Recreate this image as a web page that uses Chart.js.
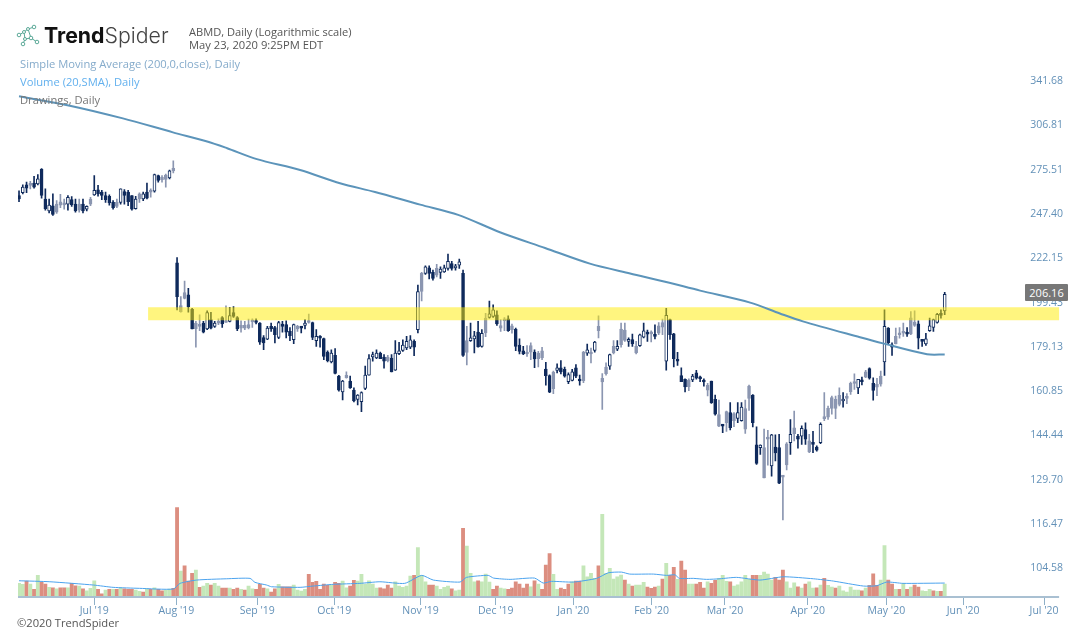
<!DOCTYPE html>
<html lang="en">
<head>
<meta charset="UTF-8">
<title>ABMD Daily</title>
<script src="https://cdn.jsdelivr.net/npm/chart.js"></script>
<style>
    html, body { margin: 0; padding: 0; background: #fff; }
    #wrap { position: relative; width: 1086px; height: 638px; overflow: hidden; font-family: "Open Sans", sans-serif; }
    #chart { position: absolute; left: 0; top: 0; }
    .txt { position: absolute; white-space: nowrap; font-size: 11.2px; line-height: 13px; }
    #logo { position: absolute; left: 44px; top: 21px; font-family: Inter, sans-serif; font-size: 21.3px; line-height: 28px; color: #111; white-space: nowrap; }
    #logo b { font-weight: 700; }
    #logo span { font-weight: 300; color: #444; }
    #lastPrice { position: absolute; left: 1025px; top: 284px; width: 43px; height: 17px; background: #777; color: #fff; font-size: 11px; line-height: 17px; text-align: center; border-radius: 1px; }
</style>
</head>
<body>
<div id="wrap">
    <canvas id="chart" width="1086" height="638"></canvas>
    <svg style="position:absolute;left:16px;top:24px" width="26" height="24" viewBox="0 0 26 24" fill="none" stroke="#5aa897" stroke-width="1">
        <path d="M3 11 L8 8 L12 5 L18 3 M8 8 L9 15 L7 20 M9 15 L15 14 L21 18 M12 5 L15 14"/>
        <circle cx="3" cy="11" r="1.8" fill="#fff"/><circle cx="8" cy="8" r="1.5" fill="#fff"/><circle cx="12" cy="5" r="1.5" fill="#fff"/>
        <circle cx="18" cy="3" r="1.8" fill="#fff"/><circle cx="9" cy="15" r="1.5" fill="#fff"/><circle cx="7" cy="20" r="1.8" fill="#fff"/>
        <circle cx="15" cy="14" r="1.8" fill="#fff"/><circle cx="21" cy="18" r="1.8" fill="#fff"/>
    </svg>
    <div id="logo"><b>Trend</b><span>Spider</span></div>
    <div class="txt" style="left:189px;top:25px;color:#555;font-size:11.1px">ABMD, Daily (Logarithmic scale)</div>
    <div class="txt" style="left:189px;top:38px;color:#555">May 23, 2020 9:25PM EDT</div>
    <div class="txt" style="left:20px;top:57px;color:#85abcb">Simple Moving Average (200,0,close), Daily</div>
    <div class="txt" style="left:20px;top:75px;color:#62b0ee">Volume (20,SMA), Daily</div>
    <div class="txt" style="left:20px;top:93px;color:#777">Drawings, Daily</div>
    <div class="txt" style="left:17px;top:616px;color:#555">©2020 TrendSpider</div>
    <div id="lastPrice">206.16</div>
</div>
<script>
    const opens = [
        258.7,260.4,265.5,266.1,266.6,266.1,275.7,256.5,249.1,252.3,
        253.3,254.8,254,253.3,256.1,253.3,253.3,253.3,250.2,256.5,
        259.1,262.3,260.8,258.7,258.2,254.4,254.4,254.4,261.2,260.8,
        258.7,250.6,259.7,256.5,260.8,261.6,261.4,271.5,270.6,271.9,
        270,276.4,
        219.7,195.1,204.3,203.2,196.2,189.7,189,189.7,187,191.3,
        188.2,190.5,192.3,190.5,190.5,194.6,192.3,188.7,188.7,189,
        190.8,190.8,189.7,183.2,182.5,188.2,187.7,183.2,189.3,189,
        185.9,182.2,187.1,187.9,188.7,190.5,190,181.8,183.4,182.7,
        176.8,172.6,175.4,166.8,160.5,167.1,164.8,161.2,157.6,156.7,
        161.9,167.2,174.7,174.3,176.4,174.7,174.7,174.3,169.2,176.1,
        177.5,178.6,178.9,181.5,186.7,214.1,214.1,217,214.6,216.7,
        214.6,214.9,216.7,219.3,217,218.4,214.1,181.8,181.8,182.6,
        185.6,179.3,192,192.3,192.8,193.6,187.4,191.3,191.7,188.5,
        186.9,179.8,177.4,176.4,179.6,176.8,176.4,177.4,169.7,167,
        168.4,169.1,170.2,169.5,164.5,165,170.2,165.2,176.8,176.3,
        176,177.5,188.2,164.4,170.5,170.9,179.3,178.1,187,186.5,
        181.5,182.3,176.4,179.6,183.3,185.4,185.1,184.1,188.5,190,
        172.9,191.3,184.8,173.3,167,165.5,165.2,165.2,168.1,166.1,
        165.2,161.2,164.8,157.6,147.7,148,153,152.6,152.3,150.5,
        149.7,146.6,162.8,159.3,141.1,140.2,130.2,143.4,134.1,140.4,
        140.2,130.8,141.5,141.9,147.1,144.2,144.1,146.5,138.7,141.5,
        140.4,141.9,150.9,154.2,158.3,157.6,159.2,157,158.5,163.9,
        164.1,162.1,165.2,168.5,169.9,163.9,163.5,166.8,172.6,187.4,
        180,183.7,185.1,185.9,185.6,192.2,190.2,189.4,181.8,180.3,
        186.2,187.7,190,194.3,195.4
    ];
    const highs = [
        261.7,265.5,267.2,267.8,271,272.1,276.1,262.9,256.5,259.7,
        255.5,259.5,256.5,258.7,258,256.5,256.5,256.5,252.3,257.6,
        271.5,265.1,261.9,260.8,259.1,255.5,256.5,262.9,262.5,261.9,
        258.7,258.2,260.4,260.8,266.6,262.9,272.5,271.9,271.5,272.5,
        275.1,281.5,
        222.4,202.3,210.1,206.5,196.7,190.5,193.6,190.5,195.4,194.8,
        190.5,191.7,192.8,197.8,197.1,197.5,192.8,190.8,190.5,191.6,
        191.7,191.7,190,184.1,188.2,189.7,188.2,190.5,190.5,190.8,
        187.7,189.3,188.7,188.2,191.3,193.9,190.2,186.7,184.1,182.9,
        177.4,177.8,178.3,167.1,165.1,168.5,166.8,162.1,159.5,160.5,
        170.9,175.7,176.8,177.8,176.8,175.7,175.4,175.7,181.8,181.1,
        182.2,183.7,184,182.2,208.1,214.6,218,218,215.8,218.8,
        217.5,218.4,224.3,220.5,218.8,221.7,215.8,188.2,189.7,185.9,
        190.5,186.7,194.3,200.2,198.3,195.4,191.3,192.3,193.1,189.3,
        187.4,182.6,179.3,179.6,180.8,177.8,177.1,178.9,172.5,167.3,
        168.8,171.8,173.2,170.5,168.1,169.5,171.5,167.2,177.1,180.3,
        178.5,181.5,193.1,167.8,172.2,176,181.8,181.8,189.7,189.7,
        183,184.7,181.5,184.7,189.7,186.5,186.2,188.9,190,191.6,
        196.7,191.6,185.1,176.7,170.2,165.7,165.7,167.5,169.1,166.8,
        165.7,163.9,164.8,159.3,157.3,148.3,153.2,156.4,152.6,156.4,
        156.4,157.3,163.2,159.5,147.4,141.1,146.6,146.2,144.8,144.6,
        144.8,130.8,141.9,150.1,153.2,144.8,147.8,148.9,144.8,145.8,
        140.8,148.9,160.2,155.1,158.9,158.9,162.1,160.2,159.8,164.4,
        167.7,165.5,166.4,169.1,170.2,166.1,165.9,168.8,195.9,187.7,
        180.8,187.4,187.7,189.7,187.7,195.1,195.4,190.8,182.2,185.1,
        192,191.6,194.3,195.9,204.5
    ];
    const lows = [
        254.8,259.7,260.4,262.9,263.4,265.5,257,249.7,248,246.5,
        247.6,251.2,250.2,249.7,251.9,248.4,248.4,248,249.1,252.3,
        258.7,258.2,256.1,254.4,252.7,250.2,251.2,253.3,253.3,252.3,
        249.7,250.2,254.4,255.5,256.5,257.6,260.8,267.2,267.2,264,
        269.3,273.2,
        195.9,194.8,201.2,194.8,187.1,178.9,186.2,185.2,186.7,187.1,
        187.7,189,187.7,190,190.2,192.3,186.2,185.6,186.7,187,
        187.7,189.3,180.1,177.8,182.2,185.9,180.8,182.7,185.6,183,
        181.8,180.5,185.9,185.2,187.1,189.7,182.2,179.3,178.9,173.6,
        172.6,172.2,167.7,160.8,157.4,165.9,161.9,156.6,155.5,153,
        161.4,167.2,172.9,174,174,170,172.6,168.5,169.1,175.7,
        177.1,177.8,178.3,175.3,185.2,200.2,213.5,211.2,210.6,212.3,
        211.5,214.6,215.8,215.8,215.8,216.7,175,171.4,181.5,176.5,
        178.9,178.9,183.6,192,192.3,188.6,185.9,186.2,185.9,185.1,
        177.4,176,175.7,175,173.6,170.2,170.5,173.6,163.1,160.2,
        159.8,168.1,167.7,166.4,163.7,164.8,166.1,163.1,164.1,175.4,
        172.2,176.8,183,153.8,167.2,169.5,176,177.4,178.9,181.5,
        179.3,179.3,176,179.3,183,181.5,181.2,182.6,184.4,184.4,
        169.2,182.3,170.5,171.2,164.5,160.5,161,164.5,165.5,164.5,
        162.8,158.9,156.1,151.7,147.5,145.4,145.8,146.3,147.5,148.9,
        149.5,145.1,153.4,147.4,134.6,137.9,130.2,134.3,130.8,135.7,
        128.4,117.6,132.8,137.9,142.5,140,141.3,141.3,138.5,138.5,
        139,141.5,149.7,150.1,152,150.4,155.1,154.7,156,159.5,
        161.5,159.8,163.2,166.1,165.5,157.3,159,162.8,167.1,180.3,
        175.4,180.3,182.9,183.7,183.7,184.4,188.2,178.2,179.3,179.7,
        185.9,185.9,189.7,192,193.6
    ];
    const closes = [
        256.5,264,263.4,265.1,264,269.3,258.7,250.6,252.7,247,
        248.4,252.7,252.9,257.6,252.9,249.1,249.7,249.1,251.9,253.3,
        261.9,259.7,258.7,256.1,254,251.2,251.9,262.9,258.7,254.8,
        250.2,256.5,256.6,259.7,257,260.8,272.1,268.3,268.9,269,
        274.6,274.6,
        202.3,198,201.5,197.5,187.1,187.2,188.2,185.6,194.6,187.4,
        189.7,189.7,189.3,190,193.2,192.8,187,187.4,187.4,187.5,
        190.3,190,181.1,180.8,187.4,187,184.4,190,188.2,185.6,
        184,189,188.2,187.4,189.7,190,183.2,183.7,182.9,175,
        173.2,176.4,167.9,161.2,164.8,166.1,162.1,157,159.3,160.2,
        167.2,174,175.7,176.4,174,172.9,173.2,168.5,176.4,177.4,
        179.8,181.5,182.2,178.9,204.8,204.9,217.5,214.1,211.5,213.2,
        216.3,217,220.5,216.7,218.1,220.2,175.4,176.7,183,183.9,
        179,185.1,185.2,194,195.9,189.3,188.6,190.8,186.2,186.7,
        179.3,177.1,176,176,176.8,173.9,174,174.3,167,160.4,
        161.8,170.2,168.5,166.8,167.4,168.5,166.8,164.8,164.9,177.8,
        176.4,181.2,186.2,165.9,167.8,175.7,176.4,179.3,180,181.9,
        182.3,180.4,179.3,184.4,186.2,184.7,184.8,183.7,185.1,187.9,
        193.3,184.4,174,172.9,164.5,162.5,162.6,166.8,165.9,165.7,
        164.4,163.1,156.4,152,151.9,147.7,148.9,147.1,149.7,152.6,
        154.7,154.1,158,148.9,134.9,141,140.2,143.1,144.6,138.4,
        128.6,130.5,134.4,144.8,145,143.1,146.9,143.1,142.5,141.3,
        139.3,148.3,150.4,150.9,154.2,154.2,155.7,157.6,158,160.6,
        163.8,165.5,164.5,166.4,165.9,161.1,162.4,163.5,188.2,180.8,
        178.9,180.3,184.4,185.1,184.7,184.8,188.7,182.9,181.5,182.6,
        188.5,191.3,193.8,193.3,203.5
    ];
    // thousands of shares
    const volumes = [
        137,127,160,130,77,217,147,130,97,93,
        83,93,93,93,137,113,110,83,63,87,
        163,77,33,70,77,77,77,93,83,77,
        77,70,57,50,83,77,93,77,63,70,
        80,87,897,260,313,160,237,270,97,110,
        137,120,137,110,90,90,90,77,90,77,
        70,110,83,77,127,90,83,50,83,127,
        103,103,103,120,70,60,77,227,147,157,
        77,130,117,117,147,137,160,93,110,167,
        160,227,130,163,130,90,93,83,120,90,
        153,110,97,110,210,217,497,217,153,120,
        120,110,77,97,110,83,63,70,690,510,
        237,153,163,153,230,150,77,110,90,83,
        77,90,153,130,90,130,103,163,130,77,
        320,437,227,77,90,77,130,153,160,160,
        313,203,237,187,313,830,237,287,180,203,
        220,170,130,110,120,120,147,100,87,100,
        110,180,337,217,297,177,360,270,130,130,
        130,147,90,153,137,167,187,217,157,153,
        110,123,153,217,177,217,217,217,250,230,
        170,197,170,270,153,90,143,103,90,130,
        153,90,93,120,187,117,100,90,110,63,
        50,100,70,70,63,90,117,233,117,170,
        517,170,130,77,77,137,77,100,120,100,
        63,57,77,63,57,57,130
    ];
    const downVolumeDays = [
        2,4,6,7,9,11,12,14,15,17,21,22,24,26,28,29,30,33,35,37,38,41,42,44,45,46,48,51,54,55,
        57,58,60,63,64,65,67,68,70,71,72,77,78,79,80,81,82,84,85,88,89,96,97,98,99,105,109,110,
        115,118,122,126,127,130,131,132,133,134,135,137,139,140,141,144,145,146,148,149,154,161,
        163,167,168,169,171,173,174,176,177,180,181,182,184,185,189,195,196,201,202,203,207,209,
        212,214,217,224,226,227,228,231,232,234,236,238,239,243,245
    ];

    const smaDays = [0,13.5,27.6,40.9,50,55.3,63.2,74.7,85.3,94.6,106.6,116.7,127.8,139.8,151.7,162.4,171.7,181,194.3,202.2,208.3,223.5,229.6,241.3,246];
    const smaValues = [329.2,321.8,312,301.6,295,290.2,282.6,275.2,266.5,260.9,253,246.8,236.6,227.7,219.2,214,209.8,205.3,199.4,194.2,190.5,183.3,180.6,175.9,175.8];

    const volSmaDays = [0,8.2,19.8,25,32,41,42.8,47.2,55.2,61.4,62.7,65.8,67.1,74.7,78.2,83.5,90.6,95.9,102.5,107,110.1,117.2,118.9,124.7,126.1,130.5,137,139.3,141.5,147.3,153.5,156.6,160.1,162.3,168.6,172.1,174.3,175.5,179.2,182.7,186.3,190.7,196.9,203.1,211.1,216.4,224.4,227.9,230.6,234.9,246];
    const volSmaValues = [163,153,120,97,87,80,137,170,183,187,147,120,103,97,110,127,137,153,137,217,170,150,197,217,190,177,190,140,157,150,187,243,250,230,230,217,223,187,187,177,183,197,170,203,183,160,110,113,150,137,140];

    const priceTicks = [104.58,116.47,129.70,144.44,160.85,179.13,199.43,222.15,247.40,275.51,306.81,341.68];
    const monthDays = [20,41.8,63.3,83.8,106.7,126.7,147.3,168.1,187.6,209.6,230.5,250.9,272.4];
    const monthLabels = ["Jul '19","Aug '19","Sep '19","Oct '19","Nov '19","Dec '19","Jan '20","Feb '20","Mar '20","Apr '20","May '20","Jun '20","Jul '20"];

    const zonePrice = 194.1;
    const zoneDays = [34.3,276.4];
    const baseDays = [-0.27,276.4];

    const NAVY = '#0f2a5c';
    const SLATE = '#8b96b1';
    const isHollow = i => closes[i] > opens[i] && (i === 0 || closes[i] >= closes[i - 1]);
    const isSolid = i => closes[i] <= opens[i] && (i === 0 || closes[i] < closes[i - 1]);
    const tone = i => (isHollow(i) || isSolid(i)) ? NAVY : SLATE;

    const days = opens.map((_, i) => i);

    new Chart(document.getElementById('chart'), {
        type: 'bar',
        data: {
            datasets: [
                {
                    label: 'Volume',
                    yAxisID: 'vol',
                    data: days.map(i => ({ x: i, y: volumes[i] })),
                    backgroundColor: days.map(i => downVolumeDays.includes(i) ? '#dc8e80' : '#c4e7b8'),
                    barThickness: 3.2,
                    order: 6
                },
                {
                    label: 'Wick',
                    yAxisID: 'y',
                    data: days.map(i => ({ x: i, y: [lows[i], highs[i]] })),
                    backgroundColor: days.map(tone),
                    barThickness: 1,
                    order: 5
                },
                {
                    label: 'Body',
                    yAxisID: 'y',
                    data: days.map(i => ({ x: i, y: [opens[i], closes[i]] })),
                    backgroundColor: days.map(i => isHollow(i) ? '#fff' : tone(i)),
                    borderColor: days.map(tone),
                    borderWidth: 1,
                    borderSkipped: false,
                    barThickness: 3,
                    minBarLength: 2,
                    order: 4
                },
                {
                    type: 'line',
                    label: 'Zone',
                    yAxisID: 'y',
                    data: zoneDays.map(d => ({ x: d, y: zonePrice })),
                    borderColor: 'rgba(255,235,0,0.5)',
                    borderWidth: 13,
                    borderCapStyle: 'butt',
                    pointRadius: 0,
                    order: 3
                },
                {
                    type: 'line',
                    label: 'Volume SMA',
                    yAxisID: 'vol',
                    data: volSmaDays.map((d, i) => ({ x: d, y: volSmaValues[i] })),
                    borderColor: '#4ba3ee',
                    borderWidth: 1,
                    pointRadius: 0,
                    tension: 0.2,
                    order: 2
                },
                {
                    type: 'line',
                    label: 'SMA 200',
                    yAxisID: 'y',
                    data: smaDays.map((d, i) => ({ x: d, y: smaValues[i] })),
                    borderColor: '#5c94ba',
                    borderWidth: 2,
                    pointRadius: 0,
                    tension: 0.3,
                    order: 1
                },
                {
                    // axis base line stops short of the price labels
                    type: 'line',
                    label: 'Base',
                    yAxisID: 'vol',
                    data: baseDays.map(d => ({ x: d, y: 0 })),
                    borderColor: '#a9c0d2',
                    borderWidth: 2,
                    borderCapStyle: 'butt',
                    pointRadius: 0,
                    clip: false,
                    order: 0
                }
            ]
        },
        options: {
            responsive: false,
            animation: false,
            layout: { padding: { left: 18, right: 0, top: 0, bottom: 0 } },
            plugins: { legend: { display: false }, tooltip: { enabled: false } },
            datasets: { bar: { grouped: false } },
            scales: {
                x: {
                    type: 'linear',
                    offset: false,
                    min: -0.27,
                    max: 278.5,
                    afterFit: scale => { scale.height = 41; },
                    afterBuildTicks: scale => { scale.ticks = monthDays.map(v => ({ value: v })); },
                    grid: { offset: false, drawOnChartArea: false, drawTicks: true, tickLength: 8, color: '#8fb0c8' },
                    border: { display: false },
                    ticks: {
                        autoSkip: false,
                        maxRotation: 0,
                        padding: 0,
                        color: '#6391b8',
                        font: { family: '"Open Sans"', size: 10.5 },
                        callback: (v, i) => monthLabels[i]
                    }
                },
                y: {
                    type: 'logarithmic',
                    position: 'right',
                    min: 97.5,
                    max: 413.7,
                    afterFit: scale => { scale.width = 19; },
                    afterBuildTicks: scale => { scale.ticks = priceTicks.map(v => ({ value: v })); },
                    grid: { display: false },
                    border: { display: false },
                    ticks: {
                        mirror: true,
                        autoSkip: false,
                        padding: -4,
                        color: '#6391b8',
                        font: { family: '"Open Sans"', size: 10.5 },
                        callback: v => Number(v).toFixed(2)
                    }
                },
                vol: {
                    type: 'linear',
                    display: false,
                    min: 0,
                    max: 5970
                }
            }
        }
    });
</script>
</body>
</html>
